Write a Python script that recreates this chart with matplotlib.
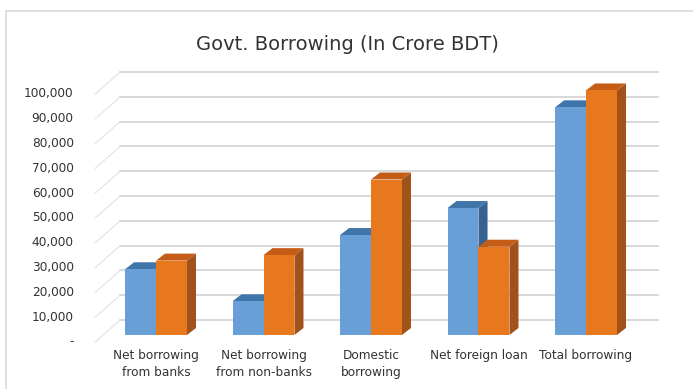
import matplotlib
matplotlib.use("Agg")
import matplotlib.pyplot as plt
from matplotlib.patches import Polygon
from matplotlib.lines import Line2D

# data (crore BDT)
categories = ["Net borrowing\nfrom banks", "Net borrowing\nfrom non-banks",
              "Domestic\nborrowing", "Net foreign loan", "Total borrowing"]
blue_vals = [26500, 13600, 40300, 51200, 91800]
orange_vals = [30000, 32200, 62700, 35600, 98600]
tick_vals = [0, 10000, 20000, 30000, 40000, 50000, 60000, 70000, 80000, 90000, 100000]
tick_labels = ["-", "10,000", "20,000", "30,000", "40,000", "50,000",
               "60,000", "70,000", "80,000", "90,000", "100,000"]

# fake 3d geometry (data units)
bw = 0.288          # bar width
bdx, bdy = 0.084, 2820      # bar depth offset
wdx, wdy = 0.167, 6050      # back wall offset from bar front
fdx, fdy = -0.233, -8870    # front edge offset from back wall

blue = ("#689fd6", "#3f75a8", "#36628f")
orange = ("#e8781e", "#c45c16", "#a1521b")
txt = "#333333"

fig = plt.figure(figsize=(6.93, 3.89), dpi=100)
ax = fig.add_axes([0, 0, 1, 1])
ax.set_xlim(-156 / 107.5, (693 - 156) / 107.5)
ax.set_ylim((335 - 389) / 0.00248, 335 / 0.00248)
ax.axis("off")

# outer frame (left and top edges only, rest is cropped)
fx, fy = 5.5 / 693, 1 - 10.5 / 389
fig.add_artist(Line2D([fx, fx], [0, fy], transform=fig.transFigure, color="#d9d9d9", lw=1.2))
fig.add_artist(Line2D([fx, 1], [fy, fy], transform=fig.transFigure, color="#d9d9d9", lw=1.2))

n = len(categories)
x0 = -0.5 + wdx
x1 = n - 0.5 + wdx
for v in tick_vals:
    # back wall gridline
    ax.plot([x0, x1], [v + wdy, v + wdy], color="#d6d6d6", lw=1.3, zorder=1)
    # side wall line
    ax.plot([x0 + fdx, x0], [v + wdy + fdy, v + wdy], color="#e2e2e2", lw=0.8, zorder=1)

for v, lab in zip(tick_vals, tick_labels):
    ax.text(x0 + fdx - 0.2, v + wdy + fdy, lab, ha="right", va="center",
            fontsize=8.7, color=txt)


def bar3d(xl, h, cols):
    front, top, side = cols
    xr = xl + bw
    ax.add_patch(Polygon([(xr, 0), (xr + bdx, bdy), (xr + bdx, h + bdy), (xr, h)],
                         closed=True, facecolor=side, edgecolor="none", zorder=3))
    ax.add_patch(Polygon([(xl, h), (xr, h), (xr + bdx, h + bdy), (xl + bdx, h + bdy)],
                         closed=True, facecolor=top, edgecolor="none", zorder=3))
    ax.bar(xl, h, width=bw, align="edge", color=front, edgecolor="none", zorder=3)


for i in range(n):
    bar3d(i - bw, blue_vals[i], blue)
    bar3d(i, orange_vals[i], orange)
    ax.text(i, -5800, categories[i], ha="center", va="top", fontsize=8.7,
            color=txt, linespacing=1.4)

fig.text(347 / 693, 1 - 45 / 389, "Govt. Borrowing (In Crore BDT)", ha="center",
         va="center", fontsize=14, color=txt)

fig.savefig("out.png", dpi=100)
